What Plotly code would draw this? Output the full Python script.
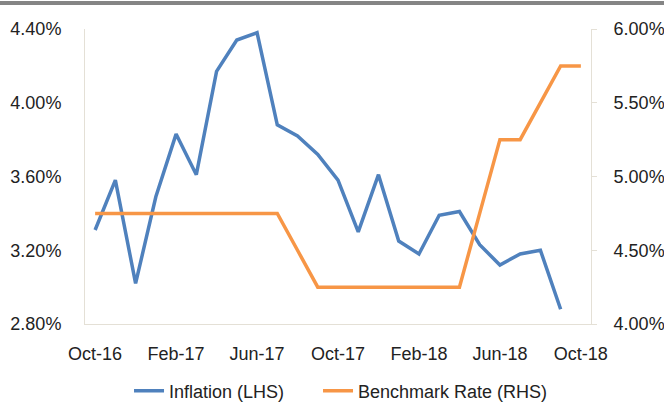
import plotly.graph_objects as go

months = ["Oct-16", "Nov-16", "Dec-16", "Jan-17", "Feb-17", "Mar-17", "Apr-17", "May-17",
          "Jun-17", "Jul-17", "Aug-17", "Sep-17", "Oct-17", "Nov-17", "Dec-17", "Jan-18",
          "Feb-18", "Mar-18", "Apr-18", "May-18", "Jun-18", "Jul-18", "Aug-18", "Sep-18",
          "Oct-18"]

inflation = [3.31, 3.58, 3.02, 3.49, 3.83, 3.61, 4.17, 4.34, 4.38, 3.88, 3.82, 3.72,
             3.58, 3.30, 3.61, 3.25, 3.18, 3.39, 3.41, 3.23, 3.12, 3.18, 3.20, 2.88]

benchmark_rate = [4.75, 4.75, 4.75, 4.75, 4.75, 4.75, 4.75, 4.75, 4.75, 4.75, 4.50, 4.25,
                  4.25, 4.25, 4.25, 4.25, 4.25, 4.25, 4.25, 4.75, 5.25, 5.25, 5.50, 5.75,
                  5.75]

x_ticks = ["Oct-16", "Feb-17", "Jun-17", "Oct-17", "Feb-18", "Jun-18", "Oct-18"]
left_ticks = [2.80, 3.20, 3.60, 4.00, 4.40]
right_ticks = [4.00, 4.50, 5.00, 5.50, 6.00]

FONT = "Liberation Sans, Arial, sans-serif"
AXIS_COLOR = "#e4e0d6"

fig = go.Figure()
fig.add_trace(go.Scatter(
    x=months[:len(inflation)], y=inflation, name="Inflation (LHS)", mode="lines",
    line=dict(color="#4f81bd", width=3.5), yaxis="y", legendwidth=144))
fig.add_trace(go.Scatter(
    x=months, y=benchmark_rate, name="Benchmark Rate (RHS)", mode="lines",
    line=dict(color="#f79646", width=3.5), yaxis="y2"))

fig.update_layout(
    width=664, height=408,
    margin=dict(l=85, r=73, t=29, b=84, pad=0, autoexpand=False),
    paper_bgcolor="white", plot_bgcolor="white",
    font=dict(family=FONT, size=18, color="#222222"),
    showlegend=True,
    legend=dict(orientation="h", x=0.087, xanchor="left", y=-0.227, yanchor="middle",
                font=dict(family=FONT, size=18, color="#222222")),
    xaxis=dict(type="category", categoryorder="array", categoryarray=months,
               range=[-0.5, len(months) - 0.5], tickvals=x_ticks, ticktext=x_ticks,
               showgrid=False, showline=True, linecolor=AXIS_COLOR, linewidth=1,
               ticks="", ticklabelstandoff=13, zeroline=False, automargin=False),
    yaxis=dict(range=[left_ticks[0], left_ticks[-1]], tickvals=left_ticks,
               ticktext=[f"{v:.2f}%" for v in left_ticks],
               showgrid=False, showline=True, linecolor=AXIS_COLOR, linewidth=1,
               ticks="", ticklabelstandoff=19, zeroline=False, automargin=False),
    yaxis2=dict(range=[right_ticks[0], right_ticks[-1]], tickvals=right_ticks,
                ticktext=[f"{v:.2f}%" for v in right_ticks],
                overlaying="y", side="right", showgrid=False, showline=True,
                linecolor=AXIS_COLOR, linewidth=1, ticks="outside", ticklen=5,
                tickcolor=AXIS_COLOR, ticklabelstandoff=13, zeroline=False,
                automargin=False),
    shapes=[dict(type="line", xref="paper", yref="paper",
                 x0=-0.2, x1=1.2, y0=1 + 26 / 295, y1=1 + 26 / 295,
                 line=dict(color="#858585", width=4))],
)

fig.write_html("out.html", config={"displayModeBar": False},
               post_script="document.body.style.margin='0';")
